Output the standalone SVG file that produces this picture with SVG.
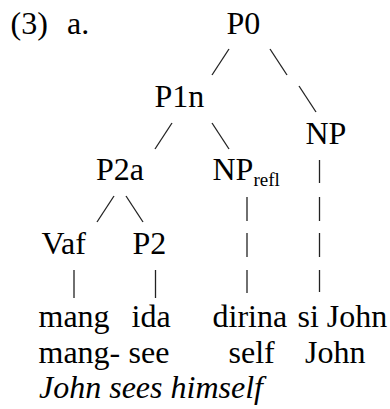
<svg xmlns="http://www.w3.org/2000/svg" width="390" height="409" viewBox="0 0 390 409">
<style>
text{font-family:"Liberation Serif","Times New Roman",serif;font-size:32px;fill:#000}
.sub{font-size:19px}
.it{font-style:italic}
.edge{stroke:#222;stroke-width:1.3;fill:none}
</style>
<rect width="390" height="409" fill="#fff"/>
<g id="label"><text x="10.5" y="34">(3)</text><text x="67" y="34">a.</text></g>
<g id="node-P0"><text x="226.5" y="34">P0</text></g>
<g id="node-P1n"><text x="154.5" y="107.2">P1n</text></g>
<g id="node-NP"><text x="305.5" y="143.8">NP</text></g>
<g id="node-P2a"><text x="96" y="180.4">P2a</text></g>
<g id="node-NPrefl"><text x="212.5" y="180.4">NP<tspan class="sub" dy="6">refl</tspan></text></g>
<g id="node-Vaf"><text x="41.5" y="253.6">Vaf</text></g>
<g id="node-P2"><text x="132.5" y="253.6">P2</text></g>
<g id="w-mang"><text x="38.5" y="326.8">mang</text><text x="38.5" y="363.4">mang-</text></g>
<g id="w-ida"><text x="131.5" y="326.8">ida</text><text x="128.5" y="363.4">see</text></g>
<g id="w-dirina"><text x="212.5" y="326.8">dirina</text><text x="228.5" y="363.4">self</text></g>
<g id="w-siJohn"><text x="297.5" y="326.8">si John</text><text x="305" y="363.4">John</text></g>
<g id="translation"><text class="it" x="39" y="398">John sees himself</text></g>
<g id="connectors" class="edge">
<line x1="229" y1="49" x2="212" y2="75"/>
<line x1="270" y1="49" x2="287" y2="75"/>
<line x1="299" y1="86" x2="316" y2="112"/>
<line x1="172" y1="123" x2="155" y2="149"/>
<line x1="212" y1="123" x2="229" y2="149"/>
<line x1="114" y1="196" x2="97" y2="222"/>
<line x1="126" y1="196" x2="143" y2="222"/>
<line x1="319.5" y1="160" x2="319.5" y2="183"/>
<line x1="319.5" y1="197" x2="319.5" y2="221"/>
<line x1="319.5" y1="233" x2="319.5" y2="257"/>
<line x1="319.5" y1="270" x2="319.5" y2="292"/>
<line x1="247" y1="197" x2="247" y2="221"/>
<line x1="247" y1="233" x2="247" y2="257"/>
<line x1="247" y1="270" x2="247" y2="293"/>
<line x1="74" y1="270" x2="74" y2="298"/>
<line x1="155.5" y1="270" x2="155.5" y2="298"/>
</g>
</svg>
